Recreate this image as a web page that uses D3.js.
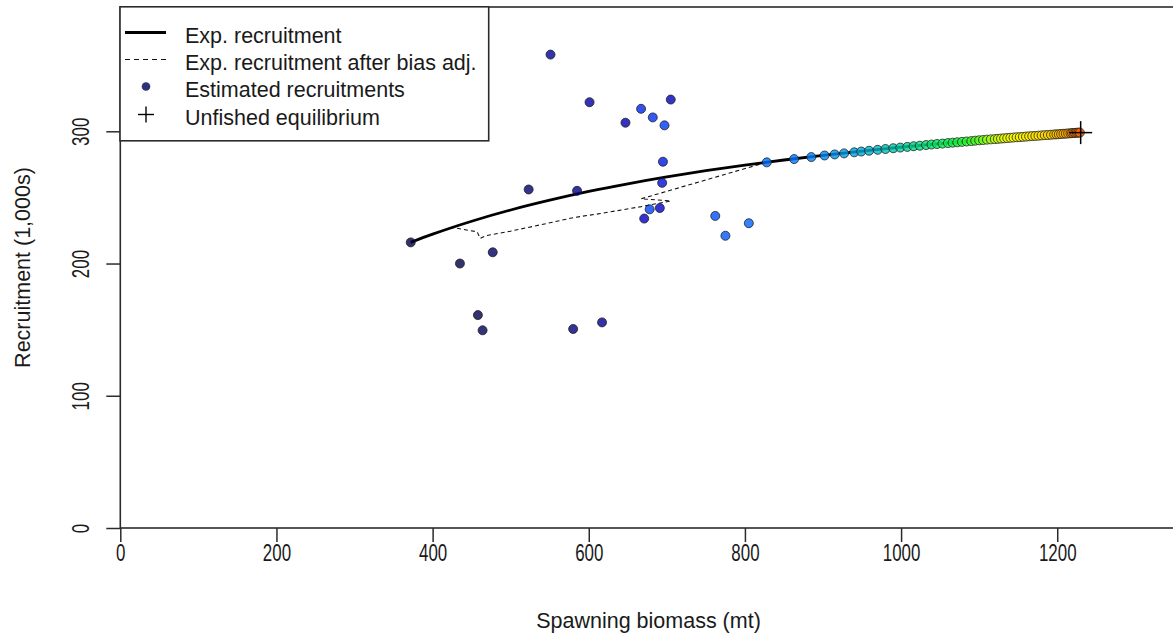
<!DOCTYPE html>
<html>
<head>
<meta charset="utf-8">
<script src="https://cdn.jsdelivr.net/npm/d3@7"></script>
<style>
  body { margin: 0; background: #fff; }
  svg { display: block; }
  text { font-family: "Liberation Sans", Arial, sans-serif; fill: #1a1a1a; }
</style>
</head>
<body>
<svg id="chart" width="1173" height="637"></svg>
<script>
// Spawning biomass (mt) and estimated recruitment (1,000s), historical years in time order
const histBiomass  = [372, 435, 458, 464, 477, 523, 580, 585, 617,
                      551, 601, 647, 705, 671, 691, 694, 695,
                      667, 682, 697, 678, 762, 775, 805];
const histRecruits = [216, 200, 161, 149.5, 208.5, 256, 150.5, 255, 155.5,
                      358, 322, 306.5, 324, 234, 242, 261, 277,
                      317, 310.5, 304.5, 241, 236, 221, 230.5];

// Forecast years: recruitment follows the expected curve as the stock rebuilds
const fcstBiomass  = [828, 863, 885, 902, 915, 927, 940, 949, 959, 970,
                      980, 990, 999, 1008, 1016, 1024, 1032, 1039, 1046, 1053,
                      1060, 1066, 1072, 1078, 1084, 1090, 1095, 1100, 1105, 1110,
                      1115, 1120, 1124, 1128, 1132, 1136, 1140, 1144, 1148, 1152,
                      1156, 1160, 1164, 1168, 1172, 1176, 1180, 1184, 1188, 1192,
                      1196, 1199, 1202, 1205, 1208, 1211, 1214, 1217, 1219, 1221,
                      1223, 1225, 1227, 1229];
const fcstRecruits = [276.5, 279.0, 280.5, 281.7, 282.5, 283.3, 284.1, 284.7, 285.3, 286.0,
                      286.6, 287.2, 287.7, 288.2, 288.7, 289.1, 289.6, 290.0, 290.4, 290.7,
                      291.1, 291.4, 291.7, 292.0, 292.3, 292.6, 292.9, 293.2, 293.4, 293.7,
                      293.9, 294.1, 294.3, 294.5, 294.7, 294.9, 295.1, 295.3, 295.5, 295.6,
                      295.8, 296.0, 296.2, 296.4, 296.5, 296.7, 296.9, 297.1, 297.2, 297.4,
                      297.6, 297.7, 297.8, 298.0, 298.1, 298.2, 298.4, 298.5, 298.6, 298.7,
                      298.8, 298.9, 299.0, 299.0];
const firstYear = 1960;

// Expected recruitment (stock-recruit curve)
const curveBiomass  = [372, 400, 450, 500, 550, 600, 650, 700, 750, 800,
                       850, 900, 950, 1000, 1050, 1100, 1150, 1200, 1230];
const curveRecruits = [216.0, 222.2, 232.0, 240.5, 247.9, 254.5, 260.3, 265.5, 270.2, 274.4,
                       278.3, 281.8, 285.0, 288.0, 290.7, 293.2, 295.6, 297.8, 299.0];

// Expected recruitment after bias adjustment, in the order it is traced
const biasBiomass  = [372, 425, 457, 461, 468, 496, 547, 581, 615, 667, 705, 667, 676, 828,
                      900, 1000, 1100, 1230];
const biasRecruits = [216, 227.3, 224, 219, 221, 224, 230.4, 234.8, 237.8, 243, 247.3, 249, 250.5, 276.6,
                      281.8, 288.0, 293.2, 299.0];

// Unfished equilibrium
const unfishedBiomass = 1230;
const unfishedRecruits = 299;

const xTicks = [0, 200, 400, 600, 800, 1000, 1200];
const yTicks = [0, 100, 200, 300];
const xLabel = "Spawning biomass (mt)";
const yLabel = "Recruitment (1,000s)";
const legendLabels = ["Exp. recruitment", "Exp. recruitment after bias adj.",
                      "Estimated recruitments", "Unfished equilibrium"];

// ---------------------------------------------------------------
const svg = d3.select("#chart");
const x = d3.scaleLinear().domain([0, 1353]).range([120.3, 1176.7]);
const y = d3.scaleLinear().domain([0, 394]).range([528, 7]);

// rainbow palette running dark navy -> blue -> cyan -> green -> yellow -> orange
function richColor(t) {
  const r = 1 / (1 + Math.exp(20 - 35 * t));
  const g = Math.min(Math.max(0, -0.8 + 6 * t - 5 * t * t), 1);
  const dn = v => Math.exp(-0.5 * ((v - 0.25) / 0.15) ** 2);
  const b = dn(t) / dn(0.25);
  return d3.rgb(r * 255, g * 255, b * 255).formatHex();
}

const points = histBiomass.map((b, i) => ({ b, r: histRecruits[i] }))
  .concat(fcstBiomass.map((b, i) => ({ b, r: fcstRecruits[i] })));
points.forEach((p, i) => { p.year = firstYear + i; });
const lastYear = firstYear + points.length - 1;
const colorPos = d3.scaleLinear().domain([firstYear, lastYear]).range([0, 0.95]);

// plot frame (right side runs off the page)
svg.append("rect")
  .attr("x", x(0)).attr("y", y(394))
  .attr("width", x(1353) - x(0)).attr("height", y(0) - y(394))
  .attr("fill", "none").attr("stroke", "#2b2b2b").attr("stroke-width", 1.6);

// axes
const xAxis = svg.append("g").attr("transform", `translate(0,${y(0)})`)
  .call(d3.axisBottom(x).tickValues(xTicks).tickSize(14).tickFormat(d3.format("d")));
xAxis.select(".domain").remove();
xAxis.selectAll(".tick line").attr("stroke", "#2b2b2b").attr("stroke-width", 1.5);
xAxis.selectAll(".tick text")
  .attr("y", null).attr("dy", null)
  .attr("transform", "translate(0,32.5) scale(0.72,1)")
  .attr("text-anchor", "middle")
  .style("font-size", "23.5px").attr("fill", "#1a1a1a");

const yAxis = svg.append("g").attr("transform", `translate(${x(0)},0)`)
  .call(d3.axisLeft(y).tickValues(yTicks).tickSize(14).tickFormat(d3.format("d")));
yAxis.select(".domain").remove();
yAxis.selectAll(".tick line").attr("stroke", "#2b2b2b").attr("stroke-width", 1.5);
yAxis.selectAll(".tick text")
  .attr("x", null).attr("dy", null)
  .attr("transform", "translate(-31.5,0) rotate(-90) scale(0.72,1)")
  .attr("text-anchor", "middle")
  .style("font-size", "23.5px").attr("fill", "#1a1a1a");

// axis titles
svg.append("text").attr("x", (x(0) + x(1353)) / 2).attr("y", 628)
  .attr("text-anchor", "middle").style("font-size", "21.5px").text(xLabel);
svg.append("text").attr("transform", `translate(30,${(y(0) + y(394)) / 2}) rotate(-90)`)
  .attr("text-anchor", "middle").style("font-size", "21.5px").text(yLabel);

// curves
const line = d3.line().x(d => x(d[0])).y(d => y(d[1]));
svg.append("path")
  .datum(biasBiomass.map((b, i) => [b, biasRecruits[i]]))
  .attr("d", line).attr("fill", "none")
  .attr("stroke", "#111").attr("stroke-width", 1.1).attr("stroke-dasharray", "4,3");
svg.append("path")
  .datum(curveBiomass.map((b, i) => [b, curveRecruits[i]]))
  .attr("d", line.curve(d3.curveMonotoneX)).attr("fill", "none")
  .attr("stroke", "#000").attr("stroke-width", 2.8);

// recruitment points, coloured by year
svg.append("g").selectAll("circle").data(points).join("circle")
  .attr("cx", d => x(d.b)).attr("cy", d => y(d.r)).attr("r", 4.5)
  .attr("fill", d => richColor(colorPos(d.year))).attr("fill-opacity", 0.8)
  .attr("stroke", "#1c1c1c").attr("stroke-opacity", 0.85).attr("stroke-width", 0.9);

// unfished equilibrium marker
const plus = (g, cx, cy, h, w) => {
  g.append("line").attr("x1", cx - h).attr("x2", cx + h).attr("y1", cy).attr("y2", cy)
    .attr("stroke", "#000").attr("stroke-width", w);
  g.append("line").attr("x1", cx).attr("x2", cx).attr("y1", cy - h).attr("y2", cy + h)
    .attr("stroke", "#000").attr("stroke-width", w);
};
plus(svg.append("g"), x(unfishedBiomass), y(unfishedRecruits), 11.5, 1.5);

// legend
const lg = svg.append("g");
lg.append("rect").attr("x", 120).attr("y", 6.8).attr("width", 368.7).attr("height", 134)
  .attr("fill", "#fff").attr("stroke", "#2b2b2b").attr("stroke-width", 1.6);
const rowY = [32.5, 59.5, 86.5, 114.5];
lg.append("line").attr("x1", 125).attr("x2", 166).attr("y1", rowY[0]).attr("y2", rowY[0])
  .attr("stroke", "#000").attr("stroke-width", 3);
lg.append("line").attr("x1", 125).attr("x2", 166).attr("y1", rowY[1]).attr("y2", rowY[1])
  .attr("stroke", "#111").attr("stroke-width", 1.1).attr("stroke-dasharray", "5,4");
lg.append("circle").attr("cx", 146).attr("cy", rowY[2]).attr("r", 4.3)
  .attr("fill", "#2d3178");
plus(lg, 146, rowY[3], 8, 1.4);
lg.selectAll("text.lab").data(legendLabels).join("text").attr("class", "lab")
  .attr("x", 185).attr("y", (d, i) => rowY[i] + 10)
  .style("font-size", "21.5px").text(d => d);
</script>
</body>
</html>
